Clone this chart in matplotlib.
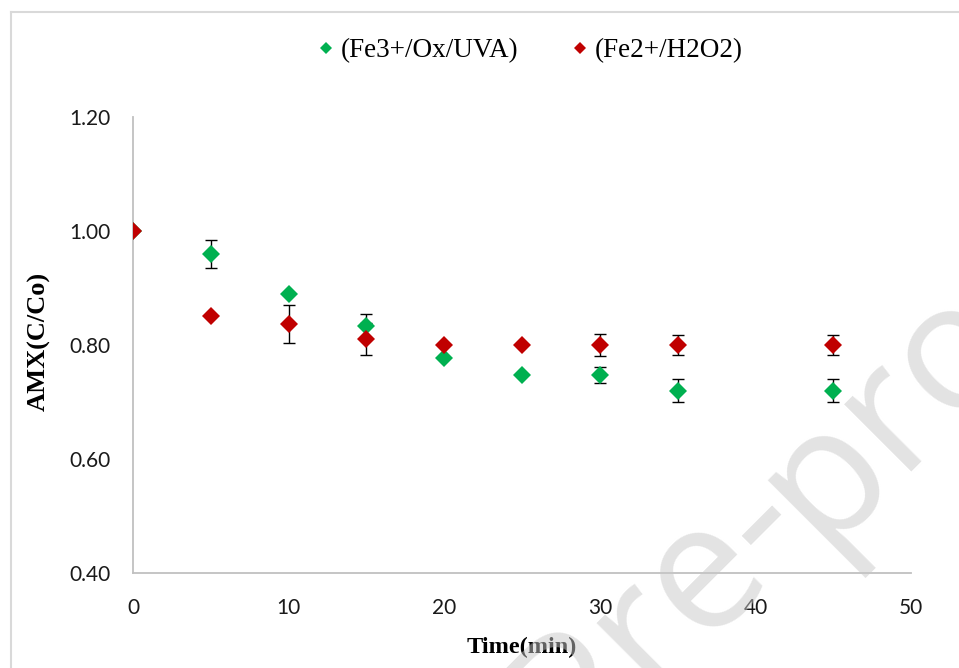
import matplotlib
matplotlib.use('Agg')
from matplotlib import pyplot as plt
from matplotlib.lines import Line2D
import numpy as np

# time points (min)
time = [0, 5, 10, 15, 20, 25, 30, 35, 45]

# Fe3+/Ox/UVA
fe3_y = [1.00, 0.960, 0.889, 0.833, 0.777, 0.748, 0.748, 0.720, 0.720]
fe3_err = [0, 0.025, 0, 0.021, 0, 0, 0.014, 0.020, 0.020]

# Fe2+/H2O2
fe2_y = [1.00, 0.851, 0.837, 0.810, 0.800, 0.800, 0.800, 0.800, 0.800]
fe2_err = [0, 0, 0.033, 0.028, 0, 0, 0.019, 0.017, 0.017]

labels = ['(Fe3+/Ox/UVA)', '(Fe2+/H2O2)']
x_ticks = [0, 10, 20, 30, 40, 50]
y_ticks = [0.40, 0.60, 0.80, 1.00, 1.20]

green = '#00B050'
red = '#C00000'

fig = plt.figure(figsize=(9.59, 6.68), dpi=100)
ax = fig.add_axes([0.1387, 0.1422, 0.9500 - 0.1387, 0.8249 - 0.1422])

# error bars under all markers
ax.errorbar(time, fe3_y, yerr=fe3_err, fmt='none', ecolor='black',
            elinewidth=1.0, capsize=4.5, capthick=1.0, zorder=2)
ax.errorbar(time, fe2_y, yerr=fe2_err, fmt='none', ecolor='black',
            elinewidth=1.0, capsize=4.5, capthick=1.0, zorder=2)
ax.plot(time, fe3_y, 'D', color=green, markersize=9, markeredgewidth=0,
        zorder=3, label=labels[0])
ax.plot(time, fe2_y, 'D', color=red, markersize=9, markeredgewidth=0,
        zorder=4, label=labels[1])

ax.set_xlim(0, 50)
ax.set_ylim(0.4, 1.2)
ax.set_xticks(x_ticks)
ax.set_yticks(y_ticks)
ax.set_yticklabels(['%.2f' % v for v in y_ticks])

for s in ['top', 'right']:
    ax.spines[s].set_visible(False)
for s in ['left', 'bottom']:
    ax.spines[s].set_color('#c0c0c0')
    ax.spines[s].set_linewidth(1.3)

ax.tick_params(axis='both', length=0, labelsize=15, colors='#1a1a1a')
ax.tick_params(axis='x', pad=18)
ax.tick_params(axis='y', pad=16)
for t in ax.get_xticklabels() + ax.get_yticklabels():
    t.set_family('Lato')

ax.set_xlabel('Time(min)', family='Liberation Serif', fontweight='bold', fontsize=17.5)
ax.xaxis.set_label_coords(0.5, -0.164)
ax.xaxis.label.set_va('center')
ax.set_ylabel('AMX(C/Co)', family='Liberation Serif', fontweight='bold', fontsize=19)
ax.yaxis.set_label_coords(-0.121, 0.507)
ax.yaxis.label.set_va('center')

handles = [Line2D([], [], marker='D', color=green, linestyle='none', markersize=6, markeredgewidth=0),
           Line2D([], [], marker='D', color=red, linestyle='none', markersize=6, markeredgewidth=0)]
fig.legend(handles, labels, loc='center', bbox_to_anchor=(529 / 959, 1 - 51 / 668),
           ncol=2, frameon=False, handlelength=0.8, handletextpad=0.12,
           columnspacing=1.9, borderpad=0, borderaxespad=0,
           prop={'family': 'Liberation Serif', 'size': 19.5})

# thin frame of the chart area
fig.add_artist(Line2D([10.5 / 959, 1], [1 - 12 / 668, 1 - 12 / 668], color='#d9d9d9', lw=1.5))
fig.add_artist(Line2D([10.5 / 959, 10.5 / 959], [0, 1 - 12 / 668], color='#d9d9d9', lw=1.5))

# watermark
wm = dict(rotation=45, rotation_mode='anchor', va='baseline', fontsize=128,
          family='Open Sans', color='#c8c8c8', alpha=0.5, zorder=10)
fig.text(820 / 959, 1 - 548 / 668, 'Journal Pre-', ha='right', **wm)
fig.text(820 / 959, 1 - 548 / 668, 'proof', ha='left', **wm)

plt.savefig('out.png', dpi=100)
